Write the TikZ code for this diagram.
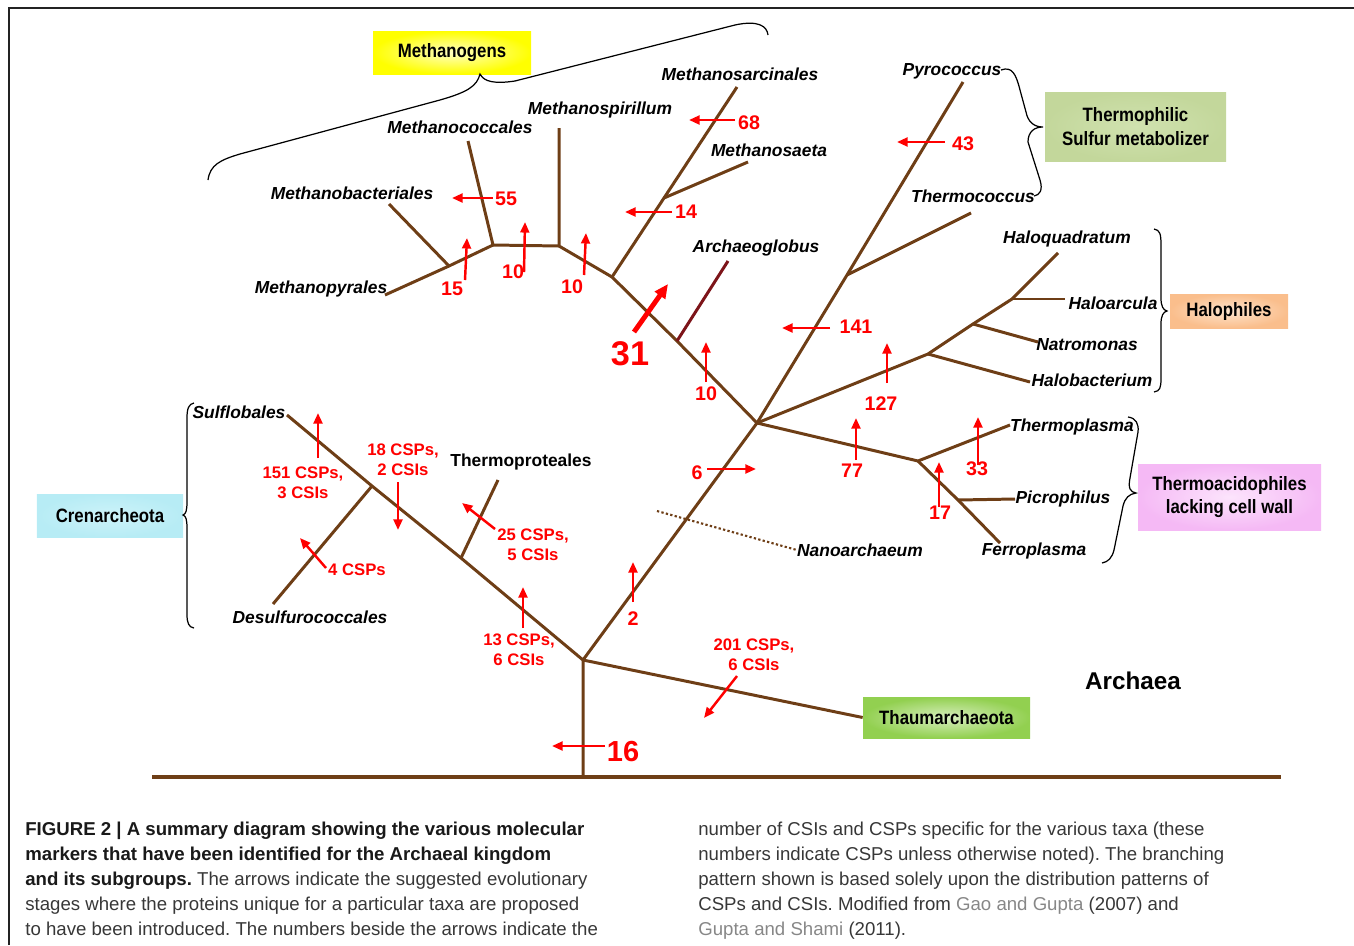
\documentclass[tikz,border=0pt]{standalone}
\usepackage{fontspec}
\setmainfont{Liberation Sans}
\newfontfamily\boxfont[FakeStretch=0.87]{Liberation Sans}
\usetikzlibrary{arrows.meta}
\frenchspacing

\definecolor{branch}{RGB}{110,62,22}
\definecolor{globus}{RGB}{125,20,25}
\definecolor{captext}{RGB}{55,55,55}
\definecolor{capbold}{RGB}{25,25,25}
\definecolor{citegray}{RGB}{135,135,135}
\definecolor{framegray}{RGB}{35,35,35}
\definecolor{methyel}{RGB}{255,255,0}
\definecolor{methyelin}{RGB}{255,255,195}
\definecolor{sulfgreen}{RGB}{195,215,155}
\definecolor{sulfgreenin}{RGB}{208,226,175}
\definecolor{halopeach}{RGB}{250,190,140}
\definecolor{halopeachin}{RGB}{253,228,205}
\definecolor{crencyan}{RGB}{183,236,245}
\definecolor{crencyanin}{RGB}{205,243,249}
\definecolor{acidpink}{RGB}{245,185,245}
\definecolor{acidpinkin}{RGB}{252,228,252}
\definecolor{thaumgreen}{RGB}{146,208,80}
\definecolor{thaumgreenin}{RGB}{215,238,190}

\tikzset{
  br/.style={draw=branch, line width=1.7pt},
  taxon/.style={inner sep=0pt, text height=7.2pt, text depth=0pt, font=\fontsize{9.9}{12}\selectfont\bfseries\itshape},
  cnt/.style={inner sep=0pt, text=red, text height=8pt, text depth=0pt, font=\fontsize{11.2}{13}\selectfont\bfseries},
  csp/.style={inner sep=0pt, text=red, align=center, font=\fontsize{9.5}{11.4}\selectfont\bfseries},
  mkarrow/.style={draw=red, line width=1.4pt, -{Triangle[length=6pt,width=5pt]}},
  grp/.style={inner sep=0pt, align=center, font=\boxfont\fontsize{11}{13.6}\selectfont\bfseries},
  brace/.style={draw=black, line width=0.7pt},
  captionline/.style={anchor=base west, inner sep=0pt, text=captext, font=\fontsize{10.6}{14}\selectfont},
}

\begin{document}
\begin{tikzpicture}[x=0.2mm,y=-0.2mm]
\useasboundingbox (0,0) rectangle (1354,945);
\draw[draw=framegray, line width=0.9pt] (9,945) -- (9,8) -- (1354,8);

% junctions of the tree
\coordinate (B0) at (152,777); \coordinate (B1) at (1281,777); \coordinate (Rf) at (583,777);
\coordinate (R) at (583,660); \coordinate (E) at (757,423);
\coordinate (C1) at (461,558); \coordinate (C2) at (372,486);
\coordinate (A1) at (677,341); \coordinate (M1) at (612,277); \coordinate (S1) at (664,198);
\coordinate (M2) at (559,246); \coordinate (M3) at (493,245); \coordinate (M4) at (449,266);
\coordinate (P1) at (847,275);
\coordinate (H1) at (928,354); \coordinate (H2) at (973,324); \coordinate (H3) at (1012,299);
\coordinate (T1) at (918,461); \coordinate (T2) at (958,500);
\coordinate (N0) at (657,511);

% branch tips
\coordinate (tSulf) at (287,415); \coordinate (tTprot) at (498,480); \coordinate (tDesulf) at (273,604);
\coordinate (tGlob) at (728,261); \coordinate (tSarc) at (737,87); \coordinate (tSaeta) at (748,162);
\coordinate (tSpir) at (559,128); \coordinate (tCocc) at (468,141); \coordinate (tPyr) at (385,295);
\coordinate (tBact) at (389,204);
\coordinate (tPyro) at (963,82); \coordinate (tTcocc) at (971,213);
\coordinate (tHquad) at (1058,253); \coordinate (tHarc) at (1065,299); \coordinate (tNatro) at (1038,342);
\coordinate (tHbact) at (1030,382);
\coordinate (tTplas) at (1010,425); \coordinate (tFerro) at (1000,543); \coordinate (tPicro) at (1015,499);

% group boxes
\node[grp, inner color=methyelin, outer color=methyel, minimum width=31.6mm, minimum height=8.6mm] (methanogens) at (452,52.5) {Methanogens};
\node[grp, inner color=sulfgreenin, outer color=sulfgreen, minimum width=36.2mm, minimum height=13.8mm] (sulfur) at (1135.5,126.5) {Thermophilic\\Sulfur metabolizer};
\node[grp, inner color=halopeachin, outer color=halopeach, minimum width=23.6mm, minimum height=6.8mm] (halophiles) at (1229,311) {Halophiles};
\node[grp, inner color=acidpinkin, outer color=acidpink, minimum width=36.6mm, minimum height=13.2mm] (acido) at (1229.5,497) {Thermoacidophiles\\lacking cell wall};
\node[grp, inner color=crencyanin, outer color=crencyan, minimum width=29.2mm, minimum height=8.6mm] (cren) at (110,515.5) {Crenarcheota};
\node[grp, inner color=thaumgreenin, outer color=thaumgreen, minimum width=33.4mm, minimum height=8.2mm] (thaum) at (946.5,717.5) {Thaumarchaeota};
\node[inner sep=0pt, text height=9.8pt, text depth=0pt, font=\fontsize{13.8}{16}\selectfont\bfseries] (archaea) at (1133,681) {Archaea};

% taxa
\node[taxon] (methanococcales) at (460,127) {Methanococcales};
\node[taxon] (methanospirillum) at (600,108) {Methanospirillum};
\node[taxon] (methanosarcinales) at (740,74) {Methanosarcinales};
\node[taxon] (methanosaeta) at (769,150) {Methanosaeta};
\node[taxon] (methanobacteriales) at (352,193) {Methanobacteriales};
\node[taxon] (methanopyrales) at (321,287) {Methanopyrales};
\node[taxon] (archaeoglobus) at (756,246) {Archaeoglobus};
\node[taxon] (pyrococcus) at (952,69) {Pyrococcus};
\node[taxon] (thermococcus) at (973,196) {Thermococcus};
\node[taxon] (haloquadratum) at (1067,237) {Haloquadratum};
\node[taxon] (haloarcula) at (1113,303) {Haloarcula};
\node[taxon] (natromonas) at (1087,344) {Natromonas};
\node[taxon] (halobacterium) at (1092,380) {Halobacterium};
\node[taxon] (thermoplasma) at (1072,425) {Thermoplasma};
\node[taxon] (picrophilus) at (1063,497) {Picrophilus};
\node[taxon] (ferroplasma) at (1034,549) {Ferroplasma};
\node[taxon] (nanoarchaeum) at (860,550) {Nanoarchaeum};
\node[taxon] (sulflobales) at (239,412) {Sulflobales};
\node[taxon] (desulfurococcales) at (310,617) {Desulfurococcales};
\node[taxon, font=\fontsize{9.9}{12}\selectfont\bfseries] (thermoproteales) at (521,460) {Thermoproteales};

% branches
\draw[br, line width=2.3pt] (B0) -- (B1);
\draw[br] (Rf) -- (R) -- (E);
\draw[br] (R) -- (thaum.west);
\draw[br] (R) -- (C1) -- (C2) -- (tSulf);
\draw[br] (C1) -- (tTprot);
\draw[br] (C2) -- (tDesulf);
\draw[draw=branch, line width=1.2pt, dash pattern=on 1.3pt off 1.3pt] (N0) -- (nanoarchaeum.west);
\draw[br] (E) -- (A1) -- (M1) -- (S1) -- (tSarc);
\draw[br, draw=globus] (A1) -- (tGlob);
\draw[br] (S1) -- (tSaeta);
\draw[br] (M1) -- (M2) -- (tSpir);
\draw[br] (M2) -- (M3) -- (tCocc);
\draw[br] (M3) -- (M4) -- (tPyr);
\draw[br] (M4) -- (tBact);
\draw[br] (E) -- (P1) -- (tPyro);
\draw[br] (P1) -- (tTcocc);
\draw[br] (E) -- (H1) -- (H2) -- (H3) -- (tHquad);
\draw[br] (H3) -- (tHarc);
\draw[br] (H2) -- (tNatro);
\draw[br] (H1) -- (tHbact);
\draw[br] (E) -- (T1) -- (tTplas);
\draw[br] (T1) -- (T2) -- (tFerro);
\draw[br] (T2) -- (tPicro);

% braces
\draw[brace] (208,180) .. controls (210,165) and (220,160) .. (240,154) -- (440,100) .. controls (468,92) and (477,86) .. (480,74) .. controls (484,82) and (495,84) .. (515,81) -- (735,25) .. controls (758,20) and (767,26) .. (768,35);
\draw[brace] (1001,70) .. controls (1012,66) and (1016,74) .. (1020,90) -- (1026,112) .. controls (1028,122) and (1034,127) .. (1043,127) .. controls (1034,127) and (1028,132) .. (1028,142) -- (1040,180) .. controls (1043,190) and (1040,195) .. (1034,196);
\draw[brace] (1154,229) .. controls (1160,230) and (1161,234) .. (1161,245) -- (1161,298) .. controls (1161,306) and (1163,310) .. (1167,311) .. controls (1163,312) and (1161,316) .. (1161,324) -- (1161,378) .. controls (1161,388) and (1160,391) .. (1154,392);
\draw[brace] (1128,417) .. controls (1136,418) and (1139,424) .. (1138,432) -- (1130,478) .. controls (1128,488) and (1130,492) .. (1136,493) .. controls (1129,494) and (1125,498) .. (1123,506) -- (1114,550) .. controls (1112,558) and (1108,562) .. (1102,563);
\draw[brace] (194,403) .. controls (189,404) and (187,408) .. (187,418) -- (187,502) .. controls (187,510) and (186,514) .. (183,515) .. controls (186,516) and (187,520) .. (187,528) -- (187,614) .. controls (187,624) and (189,627) .. (194,628);

% marker arrows
\draw[mkarrow] (493,198) -- (452,198);
\draw[mkarrow] (465,280) -- (467,238);
\draw[mkarrow] (524,272) -- (525,222);
\draw[mkarrow] (584,275) -- (586,233);
\draw[mkarrow] (735,120) -- (689,120);
\draw[mkarrow] (672,212) -- (625,212);
\draw[mkarrow] (945,142) -- (897,142);
\draw[mkarrow, line width=2.8pt, -{Triangle[length=8pt,width=7pt]}] (634,332) -- (668,284);
\draw[mkarrow] (706,382) -- (706,342);
\draw[mkarrow] (830,328) -- (782,328);
\draw[mkarrow] (887,383) -- (887,343);
\draw[mkarrow] (707,469) -- (756,469);
\draw[mkarrow] (856,460) -- (856,418);
\draw[mkarrow] (939,507) -- (939,462);
\draw[mkarrow] (978,465) -- (978,417);
\draw[mkarrow] (633,602) -- (633,562);
\draw[mkarrow] (523,628) -- (523,587);
\draw[mkarrow] (495,529) -- (462,503);
\draw[mkarrow] (398,482) -- (398,530);
\draw[mkarrow] (318,458) -- (318,413);
\draw[mkarrow] (326,568) -- (300,538);
\draw[mkarrow] (737,676) -- (704,718);
\draw[mkarrow] (605,746) -- (552,746);

% counts
\node[cnt] (n55) at (506,198) {55};
\node[cnt] (n15) at (452,288) {15};
\node[cnt] (n10a) at (513,271) {10};
\node[cnt] (n10b) at (572,286) {10};
\node[cnt] (n68) at (749,122) {68};
\node[cnt] (n14) at (686,211) {14};
\node[cnt] (n43) at (963,143) {43};
\node[cnt, text height=14pt, font=\fontsize{19.5}{22}\selectfont\bfseries] (n31) at (630,353) {31};
\node[cnt] (n10c) at (706,393) {10};
\node[cnt] (n141) at (856,326) {141};
\node[cnt] (n127) at (881,403) {127};
\node[cnt] (n6) at (697,472) {6};
\node[cnt] (n77) at (852,470) {77};
\node[cnt] (n17) at (940,512) {17};
\node[cnt] (n33) at (977,468) {33};
\node[cnt] (n2) at (633,618) {2};
\node[cnt, text height=12pt, font=\fontsize{16.5}{19}\selectfont\bfseries] (n16) at (623,751) {16};
\node[csp] (c151) at (303,483) {151 CSPs,\\3 CSIs};
\node[csp] (c18) at (403,460) {18 CSPs,\\2 CSIs};
\node[csp] (c25) at (533,545) {25 CSPs,\\5 CSIs};
\node[csp] (c4) at (357,570) {4 CSPs};
\node[csp] (c13) at (519,650) {13 CSPs,\\6 CSIs};
\node[csp] (c201) at (754,655) {201 CSPs,\\6 CSIs};

% caption
\node[captionline, text=capbold] (capl1) at (25,835) {\bfseries FIGURE 2 | A summary diagram showing the various molecular};
\node[captionline, text=capbold] (capl2) at (25,860) {\bfseries markers that have been identified for the Archaeal kingdom};
\node[captionline] (capl3) at (25,885) {\textcolor{capbold}{\bfseries and its subgroups.} The arrows indicate the suggested evolutionary};
\node[captionline] (capl4) at (25,910) {stages where the proteins unique for a particular taxa are proposed};
\node[captionline] (capl5) at (25,935) {to have been introduced. The numbers beside the arrows indicate the};
\node[captionline] (capr1) at (698,835) {number of CSIs and CSPs specific for the various taxa (these};
\node[captionline] (capr2) at (698,860) {numbers indicate CSPs unless otherwise noted). The branching};
\node[captionline] (capr3) at (698,885) {pattern shown is based solely upon the distribution patterns of};
\node[captionline] (capr4) at (698,910) {CSPs and CSIs. Modified from \textcolor{citegray}{Gao and Gupta} (2007) and};
\node[captionline] (capr5) at (698,935) {\textcolor{citegray}{Gupta and Shami} (2011).};
\end{tikzpicture}
\end{document}
